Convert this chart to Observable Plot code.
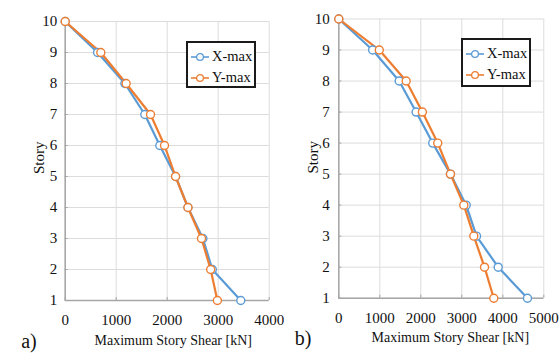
<!DOCTYPE html>
<html>
<head>
<meta charset="utf-8">
<script src="https://cdn.jsdelivr.net/npm/d3@7"></script>
<script src="https://cdn.jsdelivr.net/npm/@observablehq/plot@0.6"></script>
<style>
  html, body { margin: 0; padding: 0; background: #fff; }
  #wrap { position: relative; width: 560px; height: 358px; overflow: hidden; font-family: "Liberation Serif", "Times New Roman", serif; }
  #wrap svg, #wrap svg text { font-family: "Liberation Serif", "Times New Roman", serif !important; }
  .panel { position: absolute; top: 0; }
  .legend { position: absolute; background: #fff; border: 2px solid #1a1a1a; box-sizing: border-box; padding: 3px 0 0 2px; }
  .legend .row { display: flex; align-items: center; height: 21px; font-size: 14.5px; color: #111; }
  .legend svg { margin-right: 2px; }
</style>
</head>
<body>
<div id="wrap"></div>
<script>
// ---- data ----
const stories = [10, 9, 8, 7, 6, 5, 4, 3, 2, 1];
const seriesNames = ["X-max", "Y-max"];
const seriesColors = ["#5b9bd5", "#ed7d31"];

// Panel a
const aXmax = [0, 635, 1170, 1561, 1855, 2164, 2407, 2700, 2885, 3443];
const aYmax = [0, 698, 1195, 1673, 1947, 2164, 2407, 2672, 2852, 2984];
const aXTicks = [0, 1000, 2000, 3000, 4000];

// Panel b
const bXmax = [0, 825, 1473, 1886, 2291, 2724, 3107, 3359, 3888, 4602];
const bYmax = [0, 988, 1643, 2039, 2413, 2724, 3049, 3293, 3554, 3780];
const bXTicks = [0, 1000, 2000, 3000, 4000, 5000];

const yTicks = [1, 2, 3, 4, 5, 6, 7, 8, 9, 10];
const xLabel = "Maximum Story Shear [kN]";
const yLabel = "Story";

function rows(xmax, ymax) {
  const out = [];
  stories.forEach((s, i) => out.push({series: "X-max", story: s, shear: xmax[i]}));
  stories.forEach((s, i) => out.push({series: "Y-max", story: s, shear: ymax[i]}));
  return out;
}

function panel(cfg) {
  const data = rows(cfg.xmax, cfg.ymax);
  return Plot.plot({
    width: 280,
    height: 358,
    marginLeft: cfg.ml,
    marginRight: cfg.mr,
    marginTop: cfg.mt,
    marginBottom: cfg.mb,
    style: {fontFamily: "'Liberation Serif', 'Times New Roman', serif", fontSize: "15px", color: "#111", background: "transparent", overflow: "visible"},
    x: {type: "linear", domain: [0, cfg.xmax_domain]},
    y: {type: "linear", domain: [1, 10]},
    color: {domain: seriesNames, range: seriesColors},
    marks: [
      Plot.gridX(cfg.xTicks, {stroke: "#dcdcdc", strokeOpacity: 1, strokeWidth: 1}),
      Plot.gridY(yTicks, {stroke: "#dcdcdc", strokeOpacity: 1, strokeWidth: 1}),
      Plot.ruleX([0], {stroke: "#a6a6a6", strokeWidth: 1.5}),
      Plot.ruleY([1], {stroke: "#a6a6a6", strokeWidth: 1.5}),
      Plot.axisX(cfg.xTicks, {tickSize: -3, tickPadding: 17, stroke: "#a6a6a6", label: null, fontSize: 15, fill: "#111", tickFormat: d => String(d)}),
      Plot.axisY(yTicks, {tickSize: -3, tickPadding: cfg.yPad + 3, stroke: "#a6a6a6", label: null, fontSize: 15, fill: "#111", tickFormat: d => String(d)}),
      Plot.line(data, {x: "shear", y: "story", z: "series", stroke: "series", strokeWidth: 2.2, sort: {channel: "y", order: "descending"}}),
      Plot.dot(data, {x: "shear", y: "story", stroke: "series", fill: "white", r: 4, strokeWidth: 1.4}),
      Plot.text([xLabel], {frameAnchor: "bottom", dx: cfg.xlDx, dy: 44, fontSize: 14, fill: "#111"}),
      Plot.text([yLabel], {frameAnchor: "left", dx: -26, dy: cfg.ylDy, rotate: -90, fontSize: 15, fill: "#111"}),
      Plot.text([cfg.tag], {frameAnchor: "bottom-left", dx: -44, dy: 47, fontSize: 20, fill: "#111"})
    ]
  });
}

const wrap = document.getElementById("wrap");

const pa = panel({xmax: aXmax, ymax: aYmax, xTicks: aXTicks, xmax_domain: 4000,
  ml: 64.7, mr: 11.3, mt: 21, mb: 58, yPad: 8, xlDx: 6, ylDy: 13, tag: "a)"});
pa.classList.add("panel");
pa.style.left = "0px";
wrap.appendChild(pa);

const pb = panel({xmax: bXmax, ymax: bYmax, xTicks: bXTicks, xmax_domain: 5000,
  ml: 58.3, mr: 16.7, mt: 18.5, mb: 60.3, yPad: 9, xlDx: 9, ylDy: 15, tag: "b)"});
pb.classList.add("panel");
pb.style.left = "280px";
wrap.appendChild(pb);

function legend(left, top, width, height) {
  const div = document.createElement("div");
  div.className = "legend";
  div.style.left = left + "px";
  div.style.top = top + "px";
  div.style.width = width + "px";
  div.style.height = height + "px";
  seriesNames.forEach((name, i) => {
    const row = document.createElement("div");
    row.className = "row";
    const c = seriesColors[i];
    row.innerHTML = `<svg width="20" height="10"><line x1="1" y1="5" x2="19" y2="5" stroke="${c}" stroke-width="1.6"/><circle cx="10" cy="5" r="3.4" fill="white" stroke="${c}" stroke-width="1.3"/></svg><span>${name}</span>`;
    div.appendChild(row);
  });
  wrap.appendChild(div);
}
legend(186, 41, 70, 47);
legend(461, 38, 70, 49);
</script>
</body>
</html>
